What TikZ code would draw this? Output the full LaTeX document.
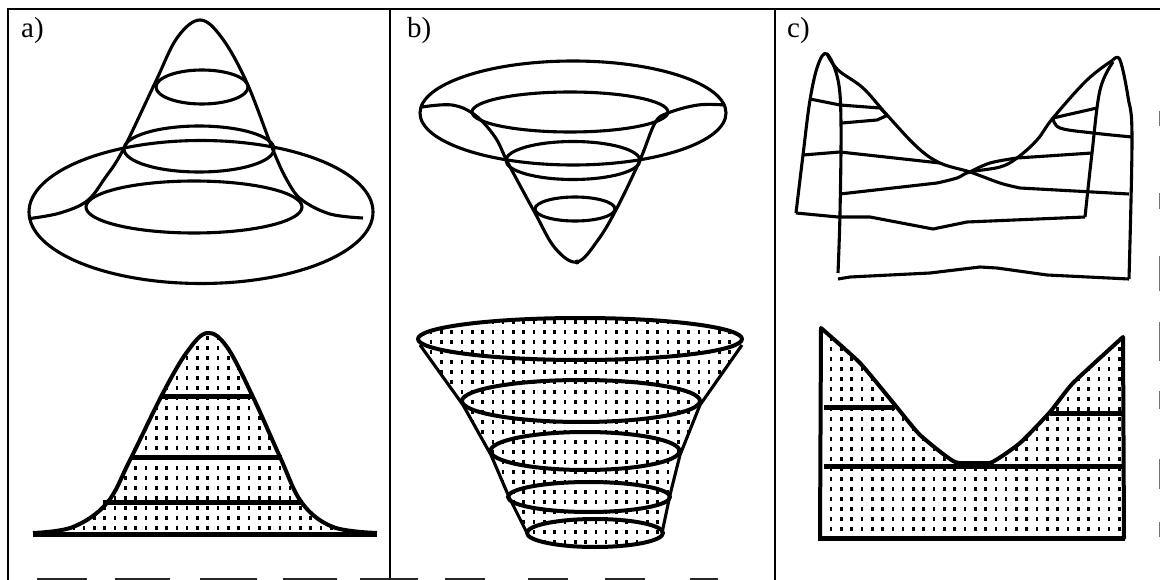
\documentclass[tikz,border=0pt]{standalone}
\usepackage{fontspec}
\setmainfont{Liberation Serif}
\newcommand{\stipple}[4]{%
  \pgfmathsetmacro{\nextx}{#1+10.3}\pgfmathsetmacro{\nexty}{#3+10}%
  \draw[stippled] \foreach \px in {#1,\nextx,...,#2} {\foreach \py in {#3,\nexty,...,#4} {(\px,\py) -- ++(0,4.2)}};}

\begin{document}
\begin{tikzpicture}[
  x=1pt,y=-1pt,
  frame/.style={line width=2.6pt,black},
  thin edge/.style={line width=1.4pt,black!85},
  hair edge/.style={line width=.7pt,black!55},
  outline/.style={line width=3.1pt,black,line join=round},
  ring/.style={line width=3.1pt,black},
  heavy/.style={line width=4pt,black,line join=round},
  band/.style={line width=5pt,black},
  stippled/.style={line width=2.6pt,black},
  panel/.style={anchor=base west,inner sep=0pt,font=\fontsize{29}{29}\selectfont}]
  \useasboundingbox (0,0) rectangle (1160,580);

  % frame
  \draw[frame] (8,580) -- (8,9) -- (1160,9);
  \draw[frame] (390,9) -- (390,580);
  \draw[frame] (775,9) -- (775,580);
  \foreach \xa/\xb in {37/87,115/170,200/257,283/337,360/418,445/485,528/568,605/645,690/718}
    \draw[thin edge] (\xa,579) -- (\xb,579);
  \foreach \ya/\yb in {111/126,193/209,256/291,322/361,391/409,459/489,522/537}
    \draw[hair edge] (1159,\ya) -- (1159,\yb);

  \node[panel] (laba) at (21,38) {a)};
  \node[panel] (labb) at (407,38) {b)};
  \node[panel] (labc) at (787,38) {c)};

  % a) surface
  \draw[ring] (201,212) ellipse (172pt and 71.5pt);
  \draw[ring] (202,87) ellipse (46pt and 17pt);
  \draw[ring] (199,149) ellipse (75pt and 23pt);
  \draw[ring] (194,207) ellipse (108pt and 26pt);
  \draw[outline] plot[smooth,tension=.6] coordinates {(30,218.5) (60,213) (87,201) (105,178) (123,150) (155,83) (177,38) (200,20) (222,38) (247,83) (273,150) (288,182) (302,200) (330,214) (363,218)};

  % a) section
  \begin{scope}
    \clip plot[smooth,tension=.6] coordinates {(33,533) (73,527) (107,503) (130,460) (163,393) (187,352) (207,333) (227,347) (253,397) (280,457) (302,503) (333,527) (377,533)} -- cycle;
    \stipple{12}{380}{336}{530}
  \end{scope}
  \draw[heavy] plot[smooth,tension=.6] coordinates {(33,533) (73,527) (107,503) (130,460) (163,393) (187,352) (207,333) (227,347) (253,397) (280,457) (302,503) (333,527) (377,533)};
  \draw[band] (33,534) -- (377,534);
  \draw[band] (162,396) -- (253,396);
  \draw[band] (131,457) -- (282,457);
  \draw[band] (103,502) -- (303,502);

  % b) surface
  \draw[ring] (573,113) ellipse (153pt and 52pt);
  \draw[ring] (570,112) ellipse (98pt and 20pt);
  \draw[ring] (573,160.5) ellipse (67pt and 19pt);
  \draw[ring] (575,209) ellipse (40pt and 12pt);
  \draw[outline] plot[smooth,tension=.6] coordinates {(422,107) (452,105) (475,115) (495,137) (508,163) (535,213) (555,248) (577,262) (598,240) (617,208) (640,160) (655,123) (668,113) (698,105) (725,105)};
  \fill (577,262) circle (2.5pt);

  % b) section
  \begin{scope}
    \clip (420,339) -- (420,345) -- (463,405) -- (491,455) -- (509,497) -- (528,535) -- (662,533) -- (670,495) -- (680,455) -- (700,405) -- (742,345) -- (742,339) -- cycle;
    \stipple{431}{742}{320}{545}
  \end{scope}
  \begin{scope}
    \clip (580,339) ellipse (162pt and 21pt);
    \stipple{431}{742}{320}{360}
  \end{scope}
  \begin{scope}
    \clip (595,533) ellipse (68pt and 14pt);
    \stipple{431}{742}{520}{545}
  \end{scope}
  \draw[outline] (420,345) -- (463,405) -- (491,455) -- (509,497) -- (528,535);
  \draw[outline] (742,345) -- (700,405) -- (680,455) -- (670,495) -- (662,533);
  \draw[heavy] (580,339) ellipse (162pt and 21pt);
  \draw[heavy] (581,401) ellipse (119pt and 21pt);
  \draw[heavy] (585,451) ellipse (94.5pt and 19pt);
  \draw[heavy] (589,497) ellipse (81pt and 15pt);
  \draw[heavy] (595,533) ellipse (68pt and 14pt);

  % c) surface
  \draw[outline] plot[smooth,tension=.6] coordinates {(796,213) (803,155) (810,100) (818,65) (827,54) (838,80) (841,123) (840,213) (838,273)};
  \draw[outline] plot[smooth,tension=.6] coordinates {(827,54) (838,70) (863,88) (887,115) (917,147) (940,163) (970,172) (1000,183) (1020,188)} -- (1129,194);
  \draw[outline] plot[smooth,tension=.6] coordinates {(1113,60) (1087,80) (1053,118) (1037,140) (1017,158) (1000,167) (970,172) (957,178) (937,183)} -- (840,194);
  \draw[outline] plot[smooth,tension=.6] coordinates {(1113,60) (1120,60) (1128,97) (1132,137) (1129,279)};
  \draw[outline] plot[smooth,tension=.6] coordinates {(1113,62) (1100,90) (1092,153) (1085,217)};
  \draw[outline] (810,99) -- (840,105) -- (880,108) -- (887,115);
  \draw[outline] (842,123) -- (877,120) -- (888,115);
  \draw[outline] (1053,118) -- (1097,108);
  \draw[outline] plot[smooth,tension=.6] coordinates {(1053,118) (1060,128) (1093,133) (1132,137)};
  \draw[outline] (803,155) -- (840,152) -- (940,163);
  \draw[outline] (1017,158) -- (1092,153);
  \draw[outline] plot[smooth,tension=.6] coordinates {(970,172) (990,163) (1017,158)};
  \draw[outline] (796,213) -- (838,217) -- (870,217) -- (933,229) -- (967,222) -- (1085,217);
  \draw[outline] (838,279) -- (850,277) -- (930,273) -- (980,267) -- (997,268) -- (1047,275) -- (1129,279);

  % c) section
  \begin{scope}
    \clip plot[smooth,tension=.3] coordinates {(821,328) (860,363) (895,405) (920,435) (955,462) (990,463) (1020,443) (1050,412) (1073,383) (1123,337)} -- (1124,538) -- (820,538) -- cycle;
    \stipple{831}{1125}{337}{538}
  \end{scope}
  \draw[heavy] plot[smooth,tension=.3] coordinates {(821,328) (860,363) (895,405) (920,435) (955,462) (990,463) (1020,443) (1050,412) (1073,383) (1123,337)} -- (1124,538) -- (820,538) -- cycle;
  \draw[band] (824,407) -- (895,407);
  \draw[band] (1050,413) -- (1123,413);
  \draw[band] (824,466) -- (1123,466);
  \draw[band] (955,463) -- (990,463);
  \draw[band] (818,538) -- (1125,538);
\end{tikzpicture}
\end{document}
